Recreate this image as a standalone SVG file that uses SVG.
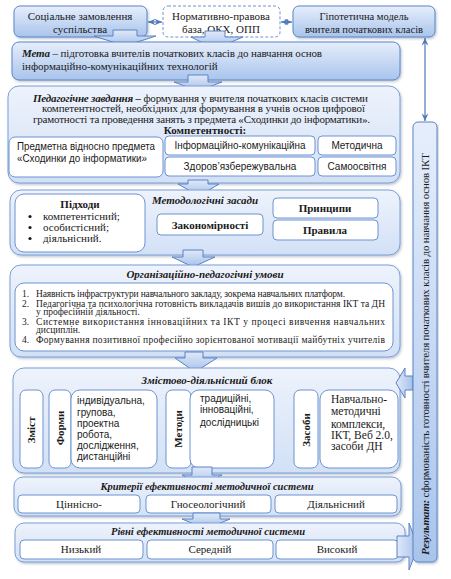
<svg xmlns="http://www.w3.org/2000/svg" width="451" height="579" viewBox="0 0 451 579">
<defs>
<linearGradient id="gBlue" x1="0" y1="0" x2="0" y2="1"><stop offset="0" stop-color="#e6eefb"/><stop offset="1" stop-color="#a9c4ec"/></linearGradient>
<linearGradient id="gPanel" x1="0" y1="0" x2="0" y2="1"><stop offset="0" stop-color="#eef3fc"/><stop offset="1" stop-color="#d2e0f6"/></linearGradient>
<linearGradient id="gArrow" x1="0" y1="0" x2="0" y2="1"><stop offset="0" stop-color="#dfe9f9"/><stop offset="1" stop-color="#a6c0ea"/></linearGradient>
<linearGradient id="gArrowH" x1="0" y1="0" x2="1" y2="0"><stop offset="0" stop-color="#dfe9f9"/><stop offset="1" stop-color="#a6c0ea"/></linearGradient>
<filter id="sh" x="-5%" y="-5%" width="110%" height="115%"><feDropShadow dx="1.2" dy="1.5" stdDeviation="0.8" flood-color="#4a5f80" flood-opacity="0.35"/></filter>
<marker id="ah" viewBox="0 0 10 10" refX="9" refY="5" markerWidth="7" markerHeight="7" orient="auto-start-reverse"><path d="M0,1 L9,5 L0,9 L3,5 Z" fill="#4f79bb"/></marker>
<style>
.blue{fill:url(#gBlue);stroke:#5b85c7;stroke-width:1;filter:url(#sh)}
.panel{fill:url(#gPanel);stroke:#7a9fd6;stroke-width:1;filter:url(#sh)}
.white{fill:#fff;stroke:#6d93d0;stroke-width:1}
.dash{fill:#fff;stroke:#6d93d0;stroke-width:1;stroke-dasharray:3 2}
.arr{fill:url(#gArrow);stroke:#5a82c2;stroke-width:1}
.arrh{fill:url(#gArrowH);stroke:#5a82c2;stroke-width:1}
.line{fill:none;stroke:#4f79bb;stroke-width:1.2;marker-start:url(#ah);marker-end:url(#ah)}
text{font-family:"Liberation Serif","Times New Roman",serif;font-size:11px;fill:#1a1a1a}
.s{font-family:"Liberation Sans",Arial,sans-serif;font-size:10px}
.c{text-anchor:middle}
.b{font-weight:bold}
.bi{font-weight:bold;font-style:italic}
.sm{font-size:9.5px}
</style>
</defs>

<g id="connectors">
<line class="line" x1="148" y1="22" x2="162" y2="22"/>
<line class="line" x1="281" y1="22" x2="292" y2="22"/>
<line class="line" x1="425" y1="38" x2="425" y2="121"/>
</g>

<g id="n-social"><rect class="blue" x="14" y="6" width="133" height="31" rx="6"/>
<text class="c" x="80" y="19.5">Соціальне замовлення</text><text class="c" x="80" y="32.5">суспільства</text></g>
<g id="n-norm"><rect class="dash" x="163" y="6" width="117" height="31" rx="5"/>
<text class="c" x="221" y="19.5">Нормативно-правова</text><text class="c" x="221" y="32.5">база, ОКХ,  ОПП</text></g>
<g id="n-hypo"><rect class="blue" x="293" y="6" width="142" height="31" rx="6"/>
<text class="c" x="364" y="19.5" style="font-size:10.5px">Гіпотетична модель</text><text class="c" x="364" y="32.5" style="font-size:10.5px">вчителя початкових класів</text></g>

<g id="a1"><path class="arr" d="M113,30 H137 V36 H156 L125,46 L94,36 H113 Z"/></g>
<g id="a2"><path class="arr" d="M205,31 H225 V37 H243 L215,49 L191,37 H205 Z"/></g>

<g id="n-meta"><rect class="blue" x="12" y="42" width="388" height="38" rx="7"/>
<text x="22" y="56.5" textLength="300" lengthAdjust="spacing"><tspan class="bi">Мета</tspan> – підготовка вчителів початкових класів до навчання основ</text>
<text x="22" y="70">інформаційно-комунікаційних  технологій</text></g>

<g id="a3"><path class="arr" d="M188,75 H208 V82 H222 L198,91 L174,82 H188 Z"/></g>

<g id="n-task"><rect class="panel" x="8" y="86" width="392" height="97" rx="11"/>
<text x="33" y="101.5" textLength="335" lengthAdjust="spacing"><tspan class="bi">Педагогічне завдання –</tspan> формування у вчителя початкових класів системи</text>
<text x="42" y="112" textLength="323" lengthAdjust="spacing">компетентностей, необхідних для формування в учнів основ цифрової</text>
<text x="33" y="122.5" textLength="337" lengthAdjust="spacing">грамотності та проведення занять з предмета «Сходинки до інформатики».</text>
<text class="c b" x="205" y="133.5">Компетентності:</text>
<rect class="white" x="9" y="137" width="154" height="40" rx="6"/>
<text class="s" x="17" y="150" textLength="138" lengthAdjust="spacingAndGlyphs">Предметна відносно предмета</text>
<text class="s" x="17" y="161.5" textLength="130" lengthAdjust="spacingAndGlyphs">«Сходинки до інформатики»</text>
<rect class="white" x="165" y="136" width="150" height="19" rx="4"/>
<text class="s c" x="240" y="149" textLength="131" lengthAdjust="spacingAndGlyphs">Інформаційно-комунікаційна</text>
<rect class="white" x="165" y="157" width="150" height="19" rx="4"/>
<text class="s c" x="240" y="170">Здоров’язбережувальна</text>
<rect class="white" x="318" y="136" width="78" height="19" rx="4"/>
<text class="s c" x="357" y="149">Методична</text>
<rect class="white" x="318" y="157" width="78" height="19" rx="4"/>
<text class="s c" x="357" y="170">Самоосвітня</text></g>

<g id="a4"><path class="arr" d="M188,180 H208 V184 H219 L199,196 L178,184 H188 Z"/></g>

<g id="n-method"><rect class="panel" x="10" y="190" width="390" height="65" rx="11"/>
<rect class="white" x="15" y="194" width="130" height="58" rx="9"/>
<text class="c b" x="80" y="208">Підходи</text>
<circle cx="30" cy="216.5" r="1.6" fill="#1a1a1a"/><text x="43" y="220">компетентісний;</text>
<circle cx="30" cy="227.5" r="1.6" fill="#1a1a1a"/><text x="43" y="231">особистісний;</text>
<circle cx="30" cy="238.5" r="1.6" fill="#1a1a1a"/><text x="43" y="242">діяльнісний.</text>
<text class="c bi" x="205" y="204">Методологічні засади</text>
<rect class="white" x="157" y="214" width="106" height="21" rx="4"/>
<text class="c b" x="210" y="228.5">Закономірності</text>
<rect class="white" x="273" y="198" width="105" height="20" rx="4"/>
<text class="c b" x="325" y="212">Принципи</text>
<rect class="white" x="273" y="220" width="105" height="20" rx="4"/>
<text class="c b" x="325" y="234">Правила</text></g>

<g id="a5"><path class="arr" d="M183,250 H203 V257 H215 L193,267 L172,257 H183 Z"/></g>

<g id="n-org"><rect class="panel" x="10" y="265" width="390" height="92" rx="11"/>
<text class="c bi" x="205" y="278">Організаційно-педагогічні умови</text>
<rect class="white" x="15" y="283" width="378" height="68" rx="9"/>
<text class="sm" x="22" y="297">1.</text><text class="sm" x="36" y="297" textLength="309" lengthAdjust="spacing">Наявність  інфраструктури  навчального закладу, зокрема навчальних платформ.</text>
<text class="sm" x="22" y="306.5">2.</text><text class="sm" x="36" y="306.5" textLength="349" lengthAdjust="spacing">Педагогічна та психологічна готовність викладачів вишів до використання ІКТ та ДН</text>
<text class="sm" x="36" y="315">у професійній діяльності.</text>
<text class="sm" x="22" y="324.5">3.</text><text class="sm" x="36" y="324.5" textLength="349" lengthAdjust="spacing">Системне використання інноваційних та ІКТ у процесі вивчення навчальних</text>
<text class="sm" x="36" y="333">дисциплін.</text>
<text class="sm" x="22" y="343">4.</text><text class="sm" x="36" y="343" textLength="349" lengthAdjust="spacing">Формування позитивної професійно зорієнтованої мотивації майбутніх учителів</text></g>

<g id="a6"><path class="arr" d="M185,352 H203 V358 H217 L195,372 L175,358 H185 Z"/></g>

<g id="n-content"><rect class="panel" x="13" y="368" width="387" height="105" rx="11"/>
<text class="c bi" x="207" y="384">Змістово-діяльнісний блок</text>
<rect class="white" x="20" y="390" width="23" height="78" rx="6"/>
<text class="c b" transform="translate(35,430) rotate(-90)">Зміст</text>
<rect class="white" x="49" y="390" width="22" height="78" rx="6"/>
<text class="c b" transform="translate(64,428) rotate(-90)">Форми</text>
<rect class="white" x="71" y="390" width="86" height="78" rx="9"/>
<text class="s" x="77" y="404">індивідуальна,</text>
<text class="s" x="77" y="415.5">групова,</text>
<text class="s" x="77" y="427">проектна</text>
<text class="s" x="77" y="438">робота,</text>
<text class="s" x="77" y="449">дослідження,</text>
<text class="s" x="77" y="460">дистанційні</text>
<rect class="white" x="166" y="390" width="25" height="78" rx="6"/>
<text class="c b" transform="translate(182,429) rotate(-90)">Методи</text>
<rect class="white" x="190" y="390" width="84" height="78" rx="9"/>
<text class="s" x="200" y="402">традиційні,</text>
<text class="s" x="200" y="413">інноваційні,</text>
<text class="s" x="200" y="426">дослідницькі</text>
<rect class="white" x="294" y="390" width="24" height="78" rx="6"/>
<text class="c b" transform="translate(310,430) rotate(-90)">Засоби</text>
<rect class="white" x="320" y="390" width="78" height="78" rx="9"/>
<text x="331" y="403" style="font-size:11.5px">Навчально-</text>
<text x="331" y="414.5" style="font-size:11.5px">методичні</text>
<text x="331" y="428" style="font-size:11.5px">комплекси,</text>
<text x="331" y="439" style="font-size:11.5px">ІКТ, Веб 2.0,</text>
<text x="331" y="450" style="font-size:11.5px">засоби ДН</text></g>

<g id="a7"><path class="arr" d="M192,467 H212 V475 H222 L202,486 L182,475 H192 Z"/></g>

<g id="n-criteria"><rect class="panel" x="14" y="477" width="387" height="39" rx="9"/>
<text class="c bi" x="207" y="489.5" style="font-size:10.5px">Критерії ефективності методичної системи</text>
<rect class="white" x="18" y="495" width="122" height="18" rx="4"/>
<text class="c" x="79" y="507.5">Ціннісно-</text>
<rect class="white" x="146" y="495" width="125" height="18" rx="4"/>
<text class="c" x="208" y="507.5">Гносеологічний</text>
<rect class="white" x="275" y="495" width="122" height="18" rx="4"/>
<text class="c" x="336" y="507.5">Діяльнісний</text></g>

<g id="a8"><path class="arr" d="M193,513 H220 V519 H230 L206,529 L182,519 H193 Z"/></g>

<g id="n-levels"><rect class="panel" x="15" y="523" width="390" height="39" rx="9"/>
<text class="c bi" x="208" y="535" style="font-size:10.5px">Рівні ефективності методичної системи</text>
<rect class="white" x="20" y="540" width="123" height="19" rx="4"/>
<text class="c" x="81" y="553">Низький</text>
<rect class="white" x="147" y="540" width="126" height="19" rx="4"/>
<text class="c" x="210" y="553">Середній</text>
<rect class="white" x="276" y="540" width="122" height="19" rx="4"/>
<text class="c" x="337" y="553">Високий</text></g>

<g id="a9"><path class="arrh" d="M397,536 H409 V523 L418,546.5 L409,570 V557 H397 Z"/></g>
<g id="a10"><path class="arrh" d="M413,376 H405 V368 L396,383 L405,398 V390 H413 Z"/></g>

<g id="n-result"><rect class="blue" x="413" y="122" width="24" height="440" rx="5"/>
<text class="c" transform="translate(429,354) rotate(-90)" textLength="402" lengthAdjust="spacing"><tspan class="bi">Результат:</tspan> сформованість готовності вчителя початкових класів до навчання основ ІКТ</text></g>
</svg>
